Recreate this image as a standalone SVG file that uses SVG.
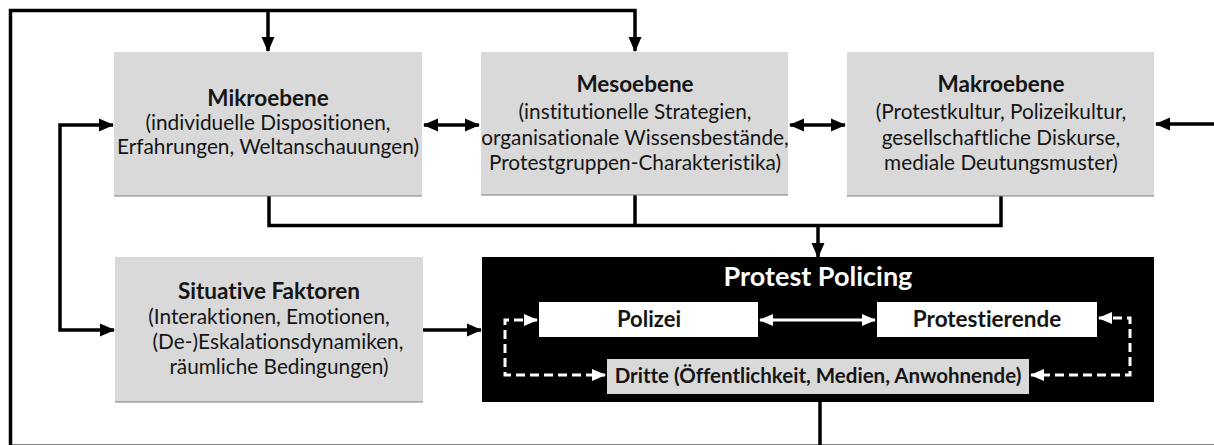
<svg xmlns="http://www.w3.org/2000/svg" width="1214" height="445" viewBox="0 0 1214 445">
<defs>
<style>
.box{fill:#d9d9d9;}
.edge{stroke:#7f7f7f;stroke-width:1.2;}
.t{font-family:Lato,"Open Sans",sans-serif;font-size:20.8px;fill:#151515;text-anchor:middle;font-variant-ligatures:none;}
.b{font-weight:bold;}
.h{font-size:22.5px;}
.w{fill:#fff;}
.ln{fill:none;stroke:#000;stroke-width:3.5;}
.wl{fill:none;stroke:#fff;stroke-width:3;}
.dash{fill:none;stroke:#fff;stroke-width:3;stroke-dasharray:9 5;}
</style>
<marker id="ah" markerUnits="userSpaceOnUse" markerWidth="15" markerHeight="15" refX="14" refY="7.5" orient="auto-start-reverse" viewBox="0 0 15 15">
<path d="M0,1 L15,7.5 L0,14 Z" fill="#000"/>
</marker>
<marker id="wh" markerUnits="userSpaceOnUse" markerWidth="14" markerHeight="14" refX="13" refY="7" orient="auto-start-reverse" viewBox="0 0 14 14">
<path d="M0,1 L14,7 L0,13 Z" fill="#fff"/>
</marker>
</defs>
<rect width="1214" height="445" fill="#fff"/>

<g id="connectors">
<!-- outer feedback loop -->
<path class="ln" d="M820,402 V446"/>
<path class="ln" d="M1216,446.2 H10.5 V10.5 H635 V51" marker-end="url(#ah)"/>
<path class="ln" d="M268,10.5 V51" marker-end="url(#ah)"/>
<path class="ln" d="M1216,124 H1156" marker-end="url(#ah)"/>
<!-- horizontal double arrows -->
<path class="ln" d="M424,125 H479" marker-start="url(#ah)" marker-end="url(#ah)"/>
<path class="ln" d="M790,125 H845" marker-start="url(#ah)" marker-end="url(#ah)"/>
<!-- left connector to Mikro and Situative -->
<path class="ln" d="M113,125 H60 V330 H114" marker-start="url(#ah)" marker-end="url(#ah)"/>
<!-- Situative to Protest -->
<path class="ln" d="M423,330 H481" marker-end="url(#ah)"/>
<!-- collector -->
<path class="ln" d="M269,196 V225.5 H1001 V196"/>
<path class="ln" d="M635,195 V225.5"/>
<path class="ln" d="M818,225.5 V257" marker-end="url(#ah)"/>
</g>

<g id="mikro">
<rect class="box" x="114" y="52" width="308" height="144"/>
<line class="edge" x1="114" y1="196" x2="422" y2="196"/>
<text class="t b h" x="268" y="106">Mikroebene</text>
<text class="t" x="268" y="130">(individuelle Dispositionen,</text>
<text class="t" x="268" y="154">Erfahrungen, Weltanschauungen)</text>
</g>

<g id="meso">
<rect class="box" x="481" y="52" width="307" height="143"/>
<line class="edge" x1="481" y1="195" x2="788" y2="195"/>
<text class="t b h" x="635" y="92">Mesoebene</text>
<text class="t" x="635" y="119">(institutionelle Strategien,</text>
<text class="t" x="635" y="145">organisationale Wissensbestände,</text>
<text class="t" x="635" y="170">Protestgruppen-Charakteristika)</text>
</g>

<g id="makro">
<rect class="box" x="847" y="52" width="307" height="144"/>
<line class="edge" x1="847" y1="196" x2="1154" y2="196"/>
<text class="t b h" x="1001" y="92">Makroebene</text>
<text class="t" x="1001" y="119">(Protestkultur, Polizeikultur,</text>
<text class="t" x="1001" y="145">gesellschaftliche Diskurse,</text>
<text class="t" x="1001" y="170">mediale Deutungsmuster)</text>
</g>

<g id="situative">
<rect class="box" x="115" y="257" width="308" height="145"/>
<line class="edge" x1="115" y1="402" x2="423" y2="402"/>
<text class="t b h" x="269" y="299">Situative Faktoren</text>
<text class="t" x="269" y="324">(Interaktionen, Emotionen,</text>
<text class="t" x="278" y="349">(De-)Eskalationsdynamiken,</text>
<text class="t" x="279" y="374">räumliche Bedingungen)</text>
</g>

<g id="protest-policing">
<rect x="482" y="257" width="672" height="145" fill="#000"/>
<text class="t b w" x="818" y="286" style="font-size:27px">Protest Policing</text>
</g>

<g id="polizei">
<rect x="539" y="302" width="219" height="35" fill="#fff"/>
<text class="t b" x="649" y="327" style="font-size:22px">Polizei</text>
</g>

<g id="protestierende">
<rect x="877" y="302" width="220" height="35" fill="#fff"/>
<text class="t b" x="987" y="327" style="font-size:22.5px">Protestierende</text>
</g>

<g id="dritte">
<rect x="607" y="359" width="422" height="35" fill="#d9d9d9"/>
<text class="t b" x="818" y="383" style="font-size:20.5px">Dritte (Öffentlichkeit, Medien, Anwohnende)</text>
</g>

<g id="inner-connectors">
<path class="wl" d="M760,320 H875" marker-start="url(#wh)" marker-end="url(#wh)"/>
<path class="dash" d="M537,320 H505 V375 H605" marker-start="url(#wh)" marker-end="url(#wh)"/>
<path class="dash" d="M1099,318 H1130 V375 H1031" marker-start="url(#wh)" marker-end="url(#wh)"/>
</g>
</svg>
